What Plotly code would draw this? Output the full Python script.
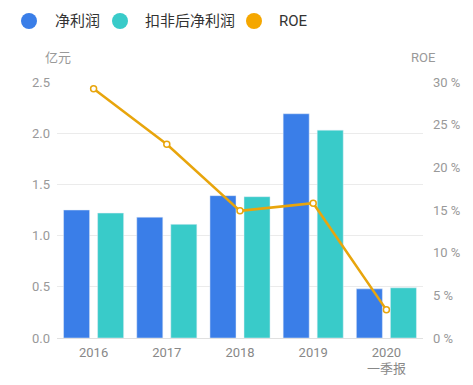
import plotly.graph_objects as go

categories = ["2016", "2017", "2018", "2019", "2020"]
category_sub = ["", "", "", "", "一季报"]
net_profit = [1.25, 1.18, 1.39, 2.19, 0.48]
net_profit_ex = [1.22, 1.11, 1.38, 2.03, 0.49]
roe = [29.2, 22.7, 14.9, 15.8, 3.3]
left_ticks = [0, 0.5, 1.0, 1.5, 2.0, 2.5]
left_labels = ["0.0", "0.5", "1.0", "1.5", "2.0", "2.5"]
right_ticks = [0, 5, 10, 15, 20, 25, 30]
right_labels = ["0 %", "5 %", "10 %", "15 %", "20 %", "25 %", "30 %"]
legend_names = ["净利润", "扣非后净利润", "ROE"]

BLUE = "#3A7EE8"
TEAL = "#39CBC9"
ORANGE = "#F5A700"
LINE = "#E8A50C"
FONT = "Roboto, Noto Sans CJK SC"

OFF = 8  # page body margin
W, H = 473 - 2 * OFF, 385 - 2 * OFF
L, T = 57 - OFF, 82 - OFF
PW, PH = 366, 256
R, B = W - L - PW, H - T - PH


def px_x(px):
    return (px - OFF - L) / PW


def px_y(py):
    return (T + PH - (py - OFF)) / PH


fig = go.Figure()
fig.add_trace(go.Bar(x=categories, y=net_profit, marker_color=BLUE, name=legend_names[0]))
fig.add_trace(go.Bar(x=categories, y=net_profit_ex, marker_color=TEAL, name=legend_names[1]))
fig.add_trace(go.Scatter(x=categories, y=roe, mode="lines+markers", yaxis="y2",
                         name=legend_names[2],
                         line=dict(color=LINE, width=2.5),
                         marker=dict(size=6, color="white", line=dict(color=LINE, width=1.5))))

# manual legend (circles + texts)
legend_cols = [BLUE, TEAL, ORANGE]
legend_cx = [29, 120, 254]
legend_tx = [53, 143, 277]
legend_cy = 21
shapes = []
annotations = []
for name, col, cx, tx in zip(legend_names, legend_cols, legend_cx, legend_tx):
    shapes.append(dict(type="circle", xref="paper", yref="paper",
                       x0=px_x(cx - 8), x1=px_x(cx + 8), y0=px_y(legend_cy + 8), y1=px_y(legend_cy - 8),
                       fillcolor=col, line=dict(width=0)))
    annotations.append(dict(text=name, xref="paper", yref="paper", x=px_x(tx), y=px_y(legend_cy),
                            xanchor="left", yanchor="middle", showarrow=False,
                            font=dict(size=15, color="#333333", family=FONT)))

# second line of the last category label
n = len(categories)
for i, sub in enumerate(category_sub):
    if sub:
        annotations.append(dict(text=sub, xref="paper", yref="paper", x=(i + 0.5) / n, y=px_y(368),
                                xanchor="center", yanchor="middle", showarrow=False,
                                font=dict(size=13, color="#888888", family=FONT)))

annotations += [
    dict(text="亿元", xref="paper", yref="paper", x=px_x(58), y=px_y(57), showarrow=False,
         xanchor="center", yanchor="middle", font=dict(size=13, color="#999999")),
    dict(text="ROE", xref="paper", yref="paper", x=px_x(423), y=px_y(57), showarrow=False,
         xanchor="center", yanchor="middle", font=dict(size=13, color="#999999")),
]

fig.update_layout(
    width=W, height=H,
    margin=dict(l=L, r=R, t=T, b=B, autoexpand=False),
    paper_bgcolor="white", plot_bgcolor="white",
    barmode="group", bargap=0.07, bargroupgap=0.235,
    font=dict(family=FONT, color="#999999", size=13),
    showlegend=False,
    xaxis=dict(type="category", categoryorder="array", categoryarray=categories,
               showgrid=False, showline=True, linecolor="#E0E0E0", linewidth=1,
               automargin=False, ticks="", ticklabelstandoff=2, tickfont=dict(size=13, color="#888888")),
    yaxis=dict(range=[0, 2.5], tickvals=left_ticks, ticktext=left_labels, automargin=False,
               showgrid=True, gridcolor="#EBEBEB", zeroline=False, showline=False,
               ticks="", ticklabelstandoff=6, tickfont=dict(size=13, color="#999999")),
    yaxis2=dict(range=[0, 30], tickvals=right_ticks, ticktext=right_labels, automargin=False,
                overlaying="y", side="right", showgrid=False, zeroline=False,
                ticks="", ticklabelstandoff=9, tickfont=dict(size=13, color="#999999")),
    shapes=shapes,
    annotations=annotations,
)

fig.write_html("out.html")
